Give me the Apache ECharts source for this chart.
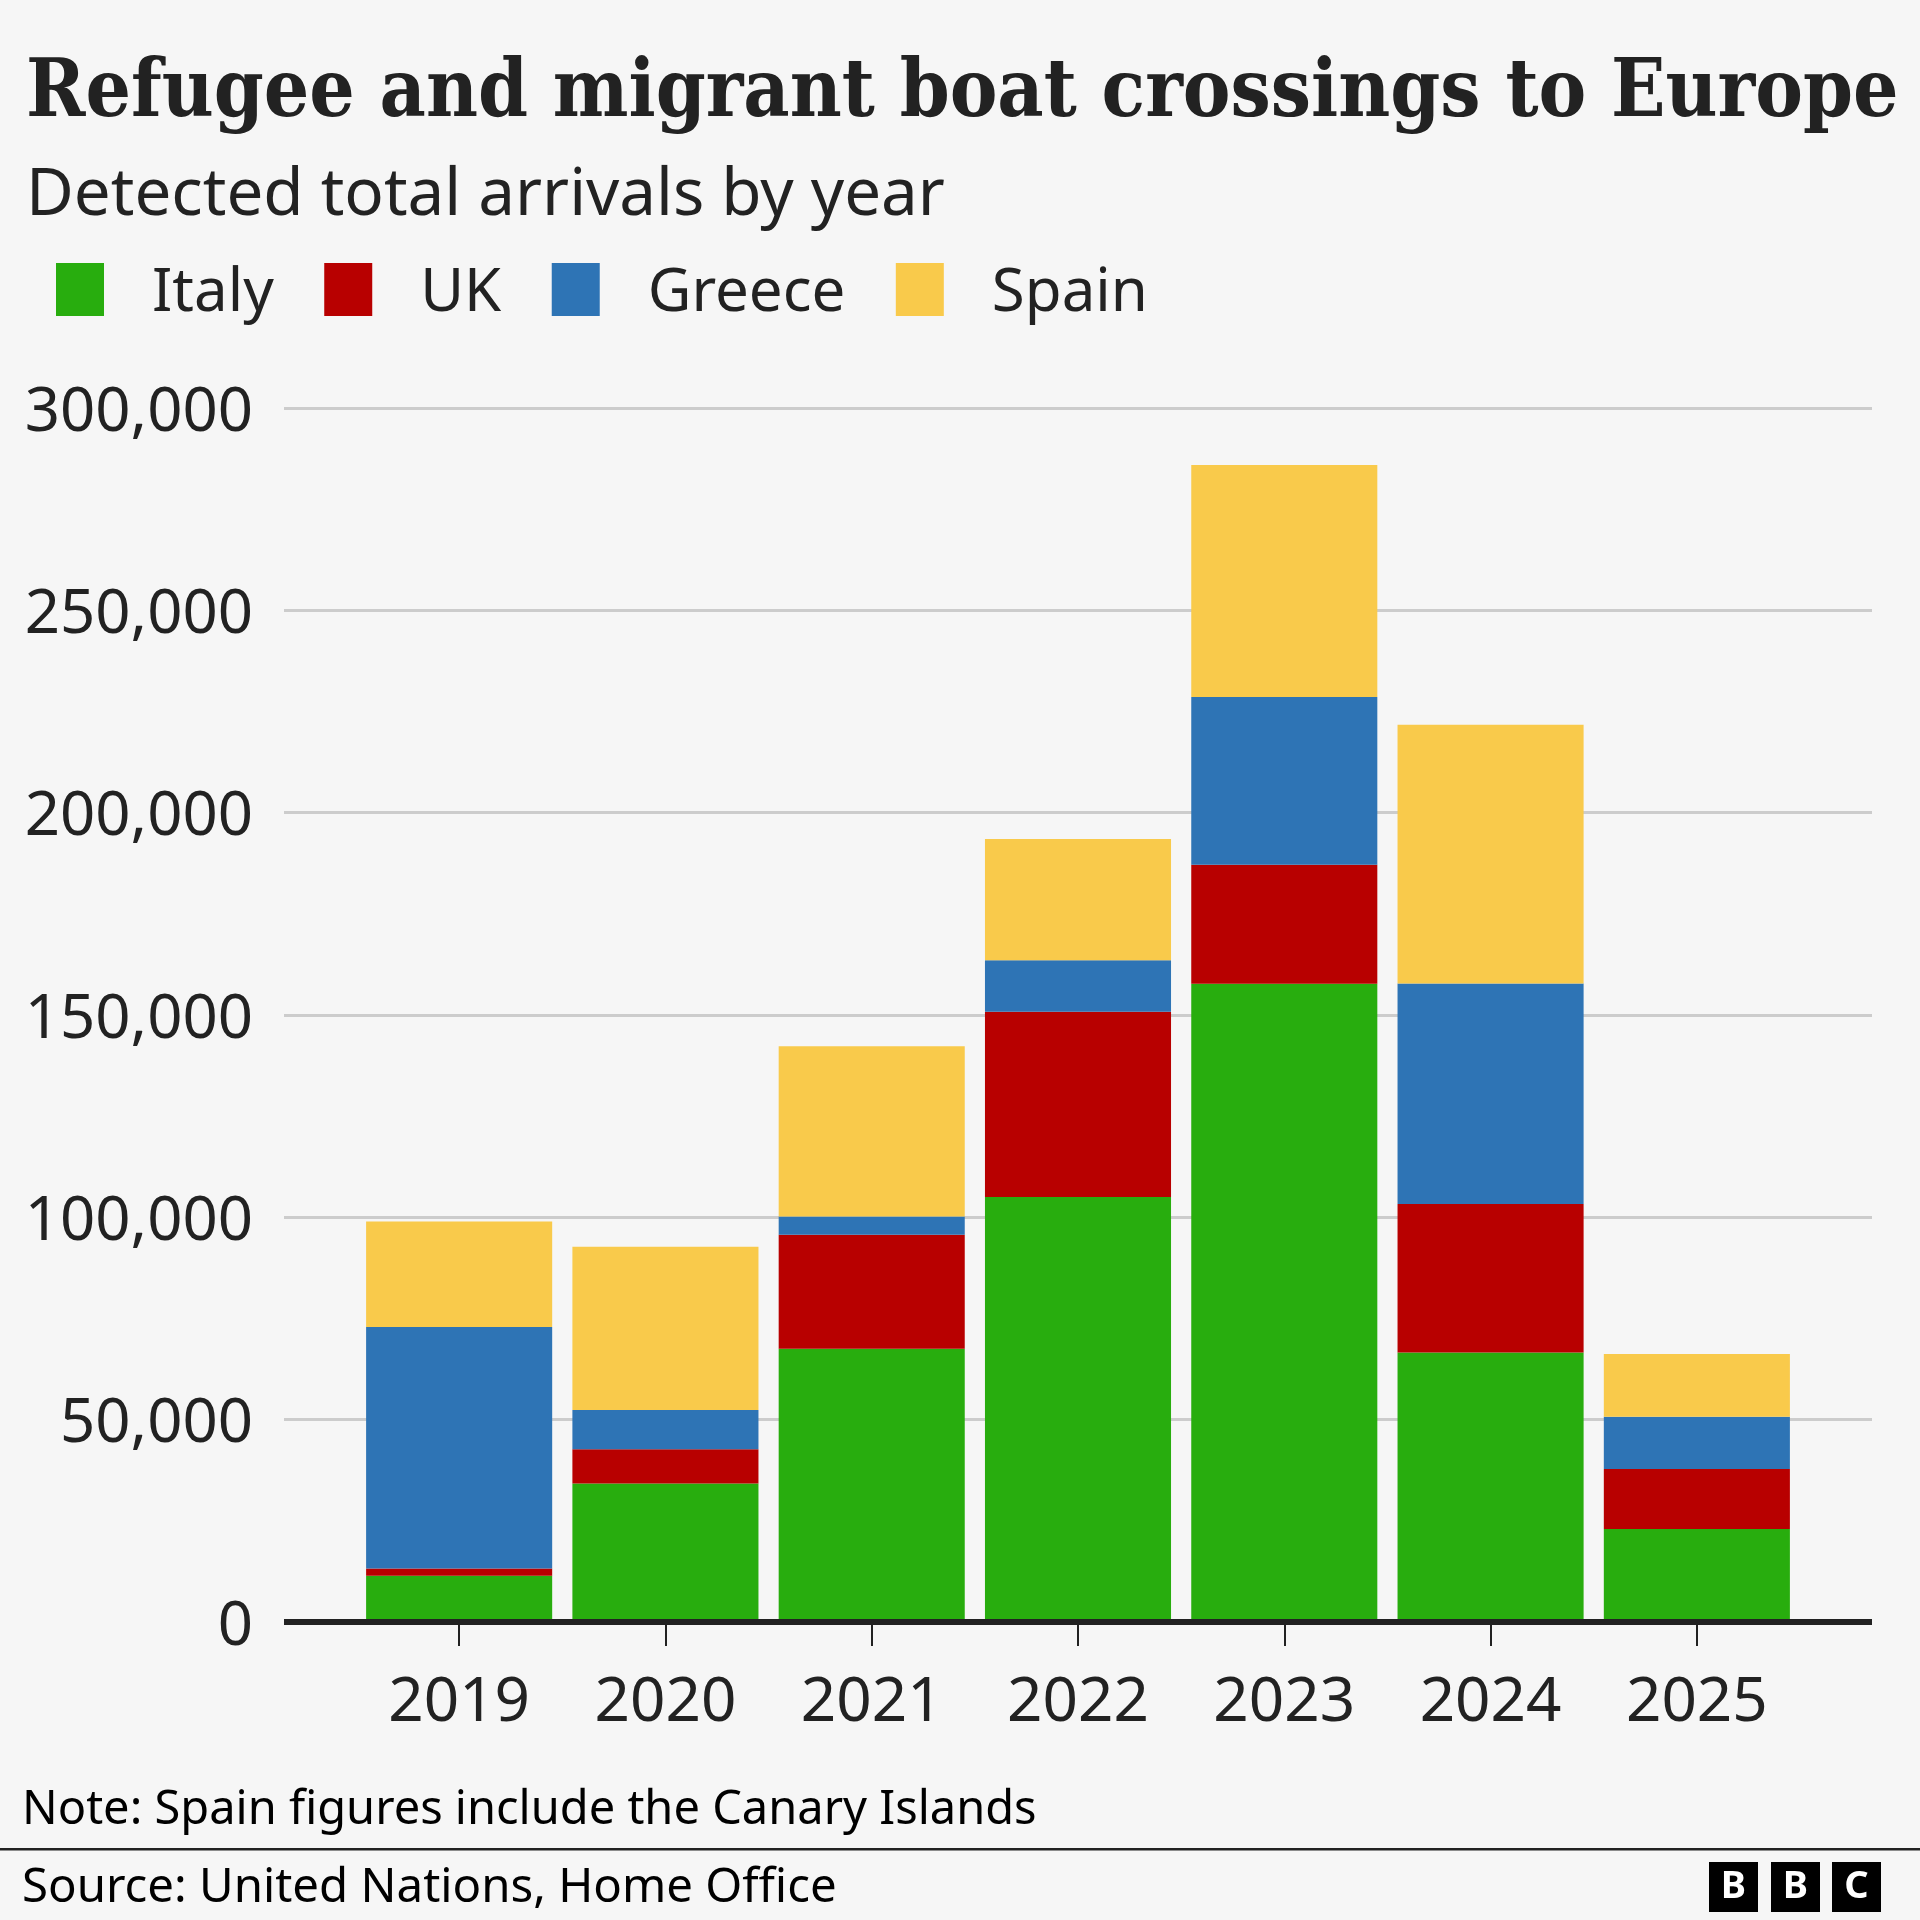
<!DOCTYPE html>
<html>
<head>
<meta charset="utf-8">
<title>Refugee and migrant boat crossings to Europe</title>
<script src="https://cdn.jsdelivr.net/npm/echarts@6/dist/echarts.min.js"></script>
<style>
  html, body { margin: 0; padding: 0; background: #f6f6f6; }
  #chart { width: 1920px; height: 1920px; }
</style>
</head>
<body>
<div id="chart"></div>
<script>
const years = ['2019', '2020', '2021', '2022', '2023', '2024', '2025'];
const italy = [11400, 34200, 67500, 105000, 157700, 66600, 23000];
const uk = [1800, 8500, 28200, 45800, 29400, 36700, 14800];
const greece = [59700, 9700, 4500, 12700, 41500, 54500, 12900];
const spain = [26100, 40300, 42100, 30000, 57300, 63900, 15500];
const yTicks = [0, 50000, 100000, 150000, 200000, 250000, 300000];

const SANS = '"Noto Sans", sans-serif';
const INK = '#222222';

function stacked(name, data, color) {
  return {
    name, data, type: 'bar', stack: 'total',
    xAxisIndex: 1, yAxisIndex: 1,
    barCategoryGap: '9.8%',
    itemStyle: { color },
    emphasis: { disabled: true }
  };
}

function logoBlock(x, letter) {
  return {
    type: 'group', x, y: 1862,
    children: [
      { type: 'rect', shape: { width: 49, height: 50 }, style: { fill: '#000' } },
      { type: 'text', x: 24.5, y: 25, style: {
        text: letter, fill: '#fff', font: 'bold 38px ' + SANS,
        align: 'center', verticalAlign: 'middle'
      } }
    ]
  };
}

const chart = echarts.init(document.getElementById('chart'));
chart.setOption({
  animation: false,
  backgroundColor: '#f6f6f6',
  title: [
    { text: 'Refugee and migrant boat crossings to Europe', left: 21, top: 50,
      textStyle: { fontFamily: '"DejaVu Serif Condensed", "Liberation Serif", serif', fontWeight: 'bold', fontSize: 79.5, color: INK } },
    { text: 'Detected total arrivals by year', left: 21, top: 158,
      textStyle: { fontFamily: SANS, fontWeight: 'normal', fontSize: 65.5, color: INK } },
    { text: 'Note: Spain figures include the Canary Islands', left: 17, top: 1782,
      textStyle: { fontFamily: SANS, fontWeight: 'normal', fontSize: 47, color: '#000' } },
    { text: 'Source: United Nations, Home Office', left: 17, top: 1860,
      textStyle: { fontFamily: SANS, fontWeight: 'normal', fontSize: 47.4, color: '#000' } }
  ],
  legend: {
    left: 56, top: 263, padding: 0,
    icon: 'rect', itemWidth: 48, itemHeight: 53, itemGap: 50.5,
    selectedMode: false,
    formatter: name => `{a|${name}}`,
    textStyle: {
      rich: { a: { fontFamily: SANS, fontSize: 60, color: INK, padding: [8, 0, 0, 43] } }
    },
    data: ['Italy', 'UK', 'Greece', 'Spain']
  },
  // the gridlines and baseline run wider than the bars, so they get their own grid
  grid: [
    { left: 284, top: 408, width: 1588, height: 1214 },
    { left: 356, top: 408, width: 1444, height: 1214 }
  ],
  xAxis: [
    { gridIndex: 0, type: 'category', data: years, z: 5,
      axisLine: { lineStyle: { color: INK, width: 6, cap: 'butt' } },
      axisTick: { show: false }, axisLabel: { show: false } },
    { gridIndex: 1, type: 'category', data: years,
      axisLine: { show: false },
      axisTick: { show: true, alignWithLabel: true, length: 24, lineStyle: { color: INK, width: 2 } },
      axisLabel: { margin: 50, fontFamily: SANS, fontSize: 62, color: INK } }
  ],
  yAxis: [
    { gridIndex: 0, type: 'value', min: yTicks[0], max: yTicks[yTicks.length - 1], interval: yTicks[1],
      axisLine: { show: false }, axisTick: { show: false },
      axisLabel: { margin: 31, fontFamily: SANS, fontSize: 61.7, color: INK,
        verticalAlign: 'top', lineHeight: 10,  // nudges the digits just below the gridline
        formatter: v => v.toLocaleString('en-GB') },
      splitLine: { lineStyle: { color: '#cccccc', width: 3, cap: 'butt' } } },
    { gridIndex: 1, type: 'value', min: yTicks[0], max: yTicks[yTicks.length - 1], interval: yTicks[1],
      show: false, splitLine: { show: false } }
  ],
  series: [
    stacked('Italy', italy, '#28ad0e'),
    stacked('UK', uk, '#b80000'),
    stacked('Greece', greece, '#2e74b5'),
    stacked('Spain', spain, '#f9ca4b')
  ],
  graphic: [
    { type: 'rect', shape: { x: 0, y: 1848, width: 1920, height: 2.5 }, style: { fill: INK } },
    logoBlock(1709, 'B'),
    logoBlock(1771, 'B'),
    logoBlock(1832, 'C')
  ]
});
</script>
</body>
</html>
